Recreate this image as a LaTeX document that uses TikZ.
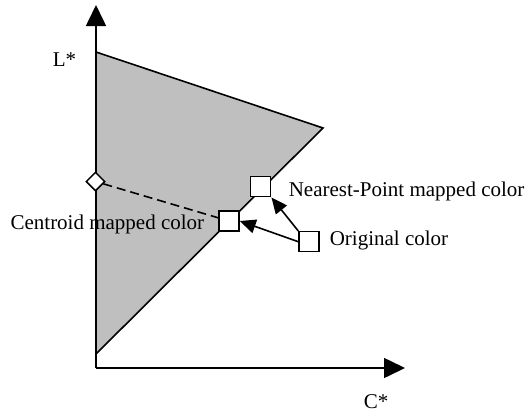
\documentclass[tikz,border=0pt]{standalone}
\usepackage{fontspec}
\setmainfont{Liberation Serif}
\usetikzlibrary{arrows.meta,shapes.geometric}

\begin{document}
\begin{tikzpicture}[x=1pt, y=-1pt, line width=1.6pt,
  lbl/.style={inner sep=0pt, anchor=base west, font=\fontsize{21}{25}\selectfont},
  colorbox/.style={draw, fill=white, line width=1.5pt, minimum size=20pt, inner sep=0pt},
  bigtip/.style={-{Triangle[length=21pt,width=20pt]}},
  smalltip/.style={-{Triangle[length=16pt,width=14pt]}}]
  \useasboundingbox (0,0) rectangle (528,413);
  % Gamut region
  \coordinate (top) at (96,52);
  \coordinate (cusp) at (323,128);
  \coordinate (bottom) at (96,354);
  \draw[fill=black!25, line join=miter] (top) -- (cusp) -- (bottom) -- cycle;
  % Axes
  \coordinate (origin) at (96,368);
  \coordinate (ytip) at (96,5);
  \coordinate (xtip) at (405,368);
  \draw[bigtip] (origin) -- (ytip);
  \draw[bigtip] (origin) -- (xtip);
  \node[lbl] (lstar) at (52,66.5) {L*};
  \node[lbl] (cstar) at (363,408) {C*};
  % Colors
  \node[draw, fill=white, line width=1.5pt, diamond, aspect=1, minimum size=19pt, inner sep=0pt] (anchorpt) at (95.5,181.5) {};
  \node[colorbox] (nearest) at (260.7,186.7) {};
  \node[colorbox] (centroid) at (229,221) {};
  \node[colorbox] (original) at (309,241.7) {};
  % Mappings
  \draw[dash pattern=on 9pt off 5pt] (anchorpt) -- (centroid);
  \draw[smalltip] (original.north west) -- (nearest.south east);
  \draw[smalltip] (original.west) -- (centroid.east);
  % Labels
  \node[lbl] (nearestlbl) at (288,196) {Nearest-Point mapped color};
  \node[lbl, anchor=base east] (centroidlbl) at (205,229) {Centroid mapped color};
  \node[lbl] (originallbl) at (329,245) {Original color};
\end{tikzpicture}
\end{document}
